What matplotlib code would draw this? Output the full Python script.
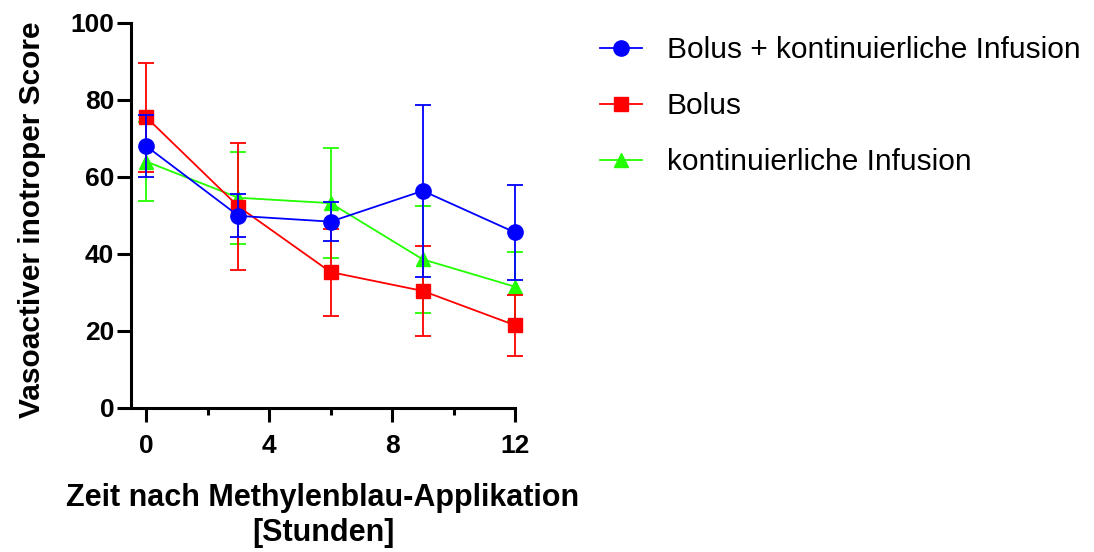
import matplotlib.pyplot as plt
from matplotlib.lines import Line2D

plt.rcParams['font.family'] = ['Liberation Sans', 'DejaVu Sans']

hours = [0, 3, 6, 9, 12]

combo_mean = [68.0, 49.9, 48.4, 56.4, 45.6]
combo_sd = [8.1, 5.6, 5.1, 22.3, 12.4]

bolus_mean = [75.5, 52.3, 35.3, 30.4, 21.5]
bolus_sd = [14.1, 16.4, 11.3, 11.8, 7.9]

infusion_mean = [64.0, 54.6, 53.2, 38.6, 31.5]
infusion_sd = [10.2, 12.0, 14.3, 13.9, 9.0]

labels = ["Bolus + kontinuierliche Infusion", "Bolus", "kontinuierliche Infusion"]
colors = ["#0000FF", "#FF0000", "#22FF00"]
markers = ["o", "s", "^"]
msizes = [11, 10.5, 10]

fig = plt.figure(figsize=(10.94, 5.52), dpi=100)
ax = fig.add_axes([0.1197, 0.2609, 0.351, 0.6975])

series = [(combo_mean, combo_sd), (bolus_mean, bolus_sd), (infusion_mean, infusion_sd)]
for i in [2, 1, 0]:
    m, sd = series[i]
    h = ax.errorbar(hours, m, yerr=sd, color=colors[i], marker=markers[i], ms=msizes[i], lw=1.3,
                    elinewidth=1.3, capsize=5.5, capthick=1.3, zorder=3 + (2 - i))
    line, caps, bars = h.lines
    for a in [line, *caps, *bars]:
        a.set_clip_on(False)

ax.set_xlim(-0.5, 12)
ax.set_ylim(0, 100)
ax.set_xticks([0, 4, 8, 12])
ax.set_xticks([2, 6, 10], minor=True)
ax.set_yticks([0, 20, 40, 60, 80, 100])
for s in ["top", "right"]:
    ax.spines[s].set_visible(False)
for s in ["left", "bottom"]:
    ax.spines[s].set_linewidth(2.2)
ax.tick_params(axis="both", which="major", length=10, width=2.2, labelsize=19)
ax.tick_params(axis="y", pad=2)
ax.tick_params(axis="x", pad=9)
ax.tick_params(axis="x", which="minor", length=5, width=2.2)
for t in ax.get_xticklabels() + ax.get_yticklabels():
    t.set_fontweight("bold")

ax.set_xlabel("Zeit nach Methylenblau-Applikation\n[Stunden]", fontsize=22, fontweight="bold", labelpad=18)
ax.set_ylabel("Vasoactiver inotroper Score", fontsize=21.5, fontweight="bold")
ax.yaxis.set_label_coords(-0.22, 0.49)

handles = [Line2D([], [], color=c, marker=mk, ms=ms, lw=1.3) for c, mk, ms in zip(colors, markers, msizes)]
ax.legend(handles=handles, labels=labels, loc="upper left", bbox_to_anchor=(1.221, 0.965),
          borderaxespad=0, borderpad=0, frameon=False, fontsize=21.5,
          handlelength=1.4, handletextpad=0.85, labelspacing=0.93)

fig.savefig("out.png", dpi=100)
